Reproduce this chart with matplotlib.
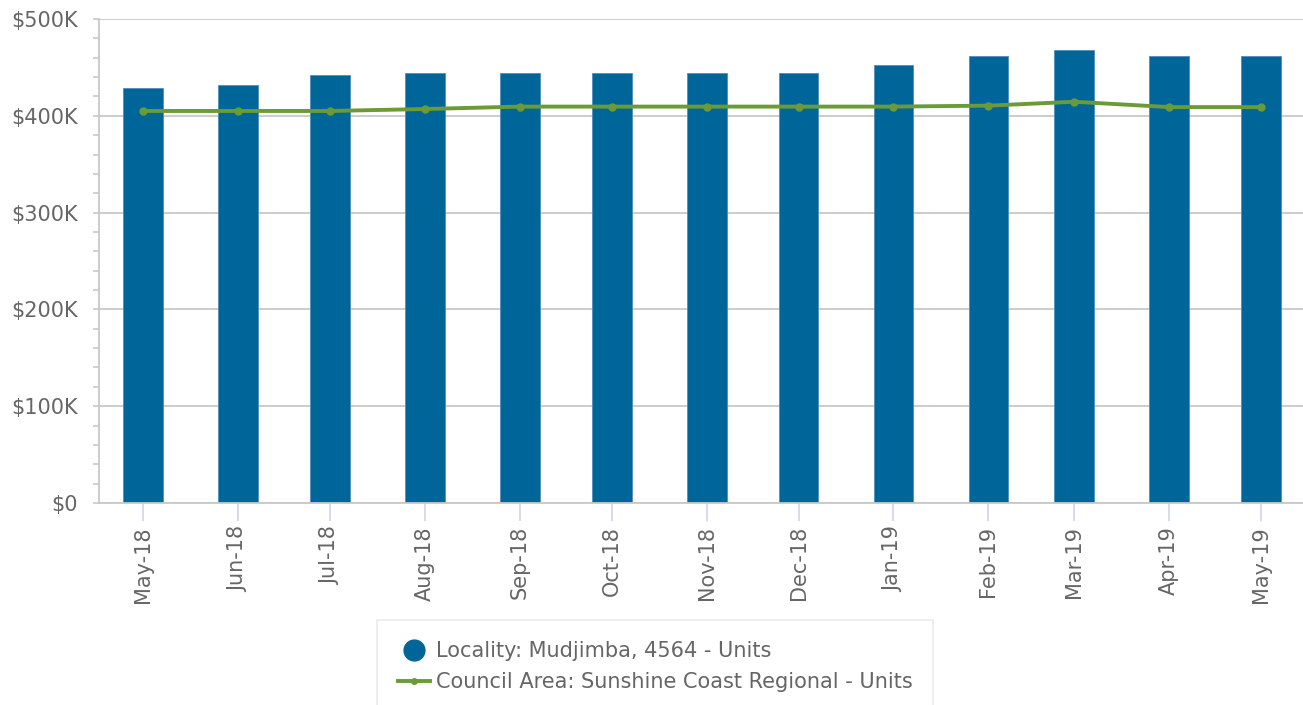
import matplotlib
matplotlib.use("Agg")
import matplotlib.pyplot as plt
import matplotlib.dates as mdates
from matplotlib.lines import Line2D
from matplotlib.ticker import FuncFormatter, MultipleLocator
import datetime as dt

months = ["2018-05", "2018-06", "2018-07", "2018-08", "2018-09", "2018-10", "2018-11",
          "2018-12", "2019-01", "2019-02", "2019-03", "2019-04", "2019-05"]
locality_values = [429000, 432000, 442000, 444000, 444000, 444000, 444000,
                   444000, 452000, 462000, 468000, 462000, 462000]
council_values = [405000, 405000, 405000, 407000, 409500, 409500, 409500,
                  409500, 409500, 410500, 414500, 409000, 409000]
locality_label = "Locality: Mudjimba, 4564 - Units"
council_label = "Council Area: Sunshine Coast Regional - Units"

dates = [dt.datetime.strptime(m + "-01", "%Y-%m-%d") for m in months]

bar_color = "#006699"
line_color = "#6b9b37"
text_color = "#666666"
grid_color = "#c8c8c8"
fs = 15

fig = plt.figure(figsize=(13.03, 7.05), dpi=100)
ax = fig.add_axes([99 / 1303, 1 - 503 / 705, 1 - 99 / 1303, (503 - 19) / 705])

ax.bar(dates, locality_values, width=13.0, color=bar_color, edgecolor="#4d8fbd",
       linewidth=0.6, zorder=2)
ax.plot(dates, council_values, color=line_color, linewidth=2.8, marker="o",
        markersize=5, zorder=3)

ax.set_ylim(0, 500000)
ax.set_xlim(dates[0] - dt.timedelta(days=14.4), dates[-1] + dt.timedelta(days=13.7))

ax.yaxis.set_major_locator(MultipleLocator(100000))
ax.yaxis.set_minor_locator(MultipleLocator(20000))
ax.yaxis.set_major_formatter(FuncFormatter(lambda v, p: "$0" if v == 0 else f"${int(v/1000)}K"))
ax.grid(axis="y", which="major", color=grid_color, linewidth=1.3, zorder=0)
ax.set_axisbelow(True)

ax.set_xticks(dates)
ax.xaxis.set_major_formatter(mdates.DateFormatter("%b-%y"))
ax.tick_params(axis="x", which="major", length=13, width=1.2, color="#ccd6eb",
               labelsize=fs, labelcolor=text_color, rotation=90, pad=3.6)
ax.tick_params(axis="y", which="both", length=4.5, width=1.2, color=grid_color,
               labelsize=fs, labelcolor=text_color, pad=11)

for s in ["top", "right"]:
    ax.spines[s].set_visible(False)
ax.spines["left"].set_color(grid_color)
ax.spines["left"].set_linewidth(1.3)
ax.spines["bottom"].set_color(grid_color)
ax.spines["bottom"].set_linewidth(1.3)

handles = [
    Line2D([], [], linestyle="none", marker="o", markersize=15, color=bar_color),
    Line2D([], [], color=line_color, linewidth=2.8, marker="o", markersize=4),
]
leg = fig.legend(handles, [locality_label, council_label], loc="upper center",
                 bbox_to_anchor=(0.503, 1 - 620 / 705), frameon=True, fontsize=fs,
                 labelcolor=text_color, handlelength=1.5, handletextpad=0.3,
                 borderpad=1.0, labelspacing=0.55, fancybox=False, borderaxespad=0)
leg.get_frame().set_edgecolor("#e6e6e6")
leg.get_frame().set_linewidth(1.2)

fig.savefig("out.png", dpi=100)
